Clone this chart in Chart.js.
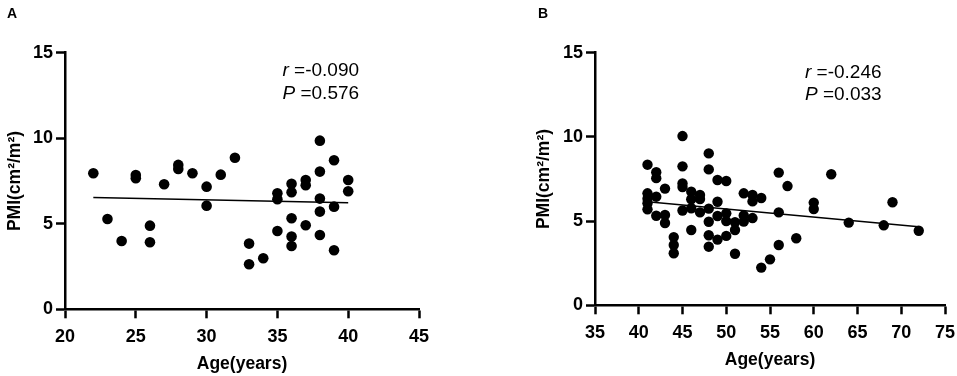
<!DOCTYPE html>
<html lang="en">

<head>
    <meta charset="UTF-8">
    <title>PMI vs Age</title>
    <script src="https://cdn.jsdelivr.net/npm/chart.js"></script>
    <style>
        body { margin: 0; background: #fff; font-family: "Liberation Sans", Arial, sans-serif; }
        #wrap { position: relative; width: 957px; height: 376px; }
        .panel { position: absolute; top: 0; }
        .tag { position: absolute; font-weight: bold; font-size: 14px; }
    </style>
</head>

<body>
    <div id="wrap">
        <div class="panel" style="left:0"><canvas id="chartA" width="478" height="376"></canvas></div>
        <div class="panel" style="left:478px"><canvas id="chartB" width="479" height="376"></canvas></div>
        <div class="tag" style="left:7px; top:5px">A</div>
        <div class="tag" style="left:538px; top:5px">B</div>
    </div>

    <script>
        // panel A
        const ageA = [22, 23, 24, 25, 25, 26, 26, 27, 28, 28, 29, 30, 30, 31, 32, 33, 33, 34, 35, 35, 35,
            36, 36, 36, 36, 36, 37, 37, 37, 38, 38, 38, 38, 38, 39, 39, 39, 40, 40];
        const pmiA = [7.95, 5.28, 3.99, 7.85, 7.66, 4.89, 3.92, 7.31, 8.44, 8.2, 7.95, 7.17, 6.06, 7.87, 8.86,
            3.84, 2.63, 2.98, 6.78, 6.43, 4.58, 7.34, 6.84, 5.32, 4.25, 3.70, 7.56, 7.25, 4.91,
            9.86, 8.05, 6.47, 5.71, 4.34, 8.71, 6.0, 3.45, 7.56, 6.90];
        const fitAgeA = [22, 40];
        const fitPmiA = [6.53, 6.23];
        const xTicksA = [20, 25, 30, 35, 40, 45];

        // panel B
        const ageB = [41, 41, 41, 41, 41, 42, 42, 42, 42, 43, 43, 43, 44, 44, 44, 45, 45, 45, 45, 45,
            46, 46, 46, 46, 47, 47, 47, 48, 48, 48, 48, 48, 48, 49, 49, 49, 49, 50, 50, 50, 50,
            51, 51, 51, 52, 52, 52, 53, 53, 53, 54, 54, 55, 56, 56, 56, 57, 58, 60, 60, 62, 64, 68, 69, 72];
        const pmiB = [8.35, 6.65, 6.33, 6.06, 5.7, 7.9, 7.55, 6.45, 5.32, 6.93, 5.36, 4.89, 4.05, 3.58, 3.09,
            10.05, 8.25, 7.24, 7.02, 5.63, 6.75, 6.3, 5.76, 4.47, 6.55, 6.31, 5.52,
            9.02, 8.07, 5.74, 4.96, 4.16, 3.48, 7.44, 6.15, 5.3, 3.9, 7.38, 5.46, 5.0, 4.12,
            4.93, 4.47, 3.06, 6.65, 5.33, 4.97, 6.55, 6.17, 5.18, 6.37, 2.24, 2.73, 7.88, 5.52, 3.58,
            7.08, 3.98, 6.1, 5.72, 7.78, 4.91, 4.75, 6.12, 4.43];
        const fitAgeB = [41, 72];
        const fitPmiB = [6.15, 4.67];
        const xTicksB = [35, 40, 45, 50, 55, 60, 65, 70, 75];

        const yTicks = [0, 5, 10, 15];

        const FONT = '"Liberation Sans", Arial, sans-serif';
        const pts = (xs, ys) => xs.map((x, i) => ({ x: x, y: ys[i] }));

        // r / P text in the corner
        const statsPlugin = {
            id: 'stats',
            afterDraw(chart, args, opts) {
                const ctx = chart.ctx;
                const x = chart.scales.x.getPixelForValue(opts.x);
                ctx.save();
                ctx.fillStyle = '#000';
                ctx.textBaseline = 'middle';
                opts.lines.forEach((ln, i) => {
                    const y = chart.scales.y.getPixelForValue(opts.y[i]);
                    ctx.font = 'italic 19px ' + FONT;
                    ctx.fillText(ln[0], x, y);
                    const w = ctx.measureText(ln[0]).width;
                    ctx.font = '19px ' + FONT;
                    ctx.fillText(ln[1], x + w, y);
                });
                ctx.restore();
            }
        };

        function makeChart(id, xs, ys, fx, fy, xTicks, lay, stats) {
            const axisCommon = {
                grid: { display: true, drawOnChartArea: false, drawTicks: true, tickLength: 9, tickWidth: 2.5, tickColor: '#000' },
                border: { display: true, color: '#000', width: 2.5 },
                ticks: { color: '#000', font: { family: FONT, size: 18, weight: 'bold' } }
            };
            return new Chart(document.getElementById(id), {
                type: 'scatter',
                data: {
                    datasets: [{
                        data: pts(xs, ys),
                        backgroundColor: '#000',
                        borderWidth: 0,
                        pointRadius: lay.r
                    }, {
                        type: 'line',
                        data: pts(fx, fy),
                        borderColor: '#000',
                        borderWidth: 1.5,
                        pointRadius: 0,
                        fill: false
                    }]
                },
                options: {
                    responsive: false,
                    animation: false,
                    layout: { padding: { left: lay.left, right: lay.right, top: 52.7, bottom: 0 } },
                    plugins: { legend: { display: false }, tooltip: { enabled: false }, stats: stats },
                    scales: {
                        x: {
                            ...axisCommon,
                            type: 'linear',
                            min: xTicks[0], max: xTicks[xTicks.length - 1],
                            ticks: { ...axisCommon.ticks, stepSize: 5, padding: 8, maxRotation: 0 },
                            title: { display: true, text: 'Age(years)', color: '#000', padding: { top: 0, bottom: lay.xtPad }, font: { family: FONT, size: 17.5, weight: 'bold' } },
                            afterFit: s => { s.height = lay.xh; s.paddingLeft = 0; s.paddingRight = 0; }
                        },
                        y: {
                            ...axisCommon,
                            min: yTicks[0], max: yTicks[yTicks.length - 1],
                            ticks: { ...axisCommon.ticks, stepSize: 5, padding: 3 },
                            title: { display: true, text: 'PMI(cm²/m²)', color: '#000', padding: { top: 5, bottom: 0 }, font: { family: FONT, size: 17.5, weight: 'bold' } },
                            afterFit: s => { s.width = lay.yw; s.paddingTop = 0; s.paddingBottom = 0; }
                        }
                    }
                },
                plugins: [statsPlugin]
            });
        }

        makeChart('chartA', ageA, pmiA, fitAgeA, fitPmiA, xTicksA,
            { left: 0, right: 59, yw: 65, xh: 66.7, xtPad: 1.5, r: 5.3 },
            { x: 35.36, y: [13.95, 12.59], lines: [['r', ' =-0.090'], ['P', ' =0.576']] });

        makeChart('chartB', ageB, pmiB, fitAgeB, fitPmiB, xTicksB,
            { left: 50.5, right: 12, yw: 66.5, xh: 70.7, xtPad: 5.5, r: 5.2 },
            { x: 59.0, y: [13.82, 12.49], lines: [['r', ' =-0.246'], ['P', ' =0.033']] });
    </script>
</body>

</html>
